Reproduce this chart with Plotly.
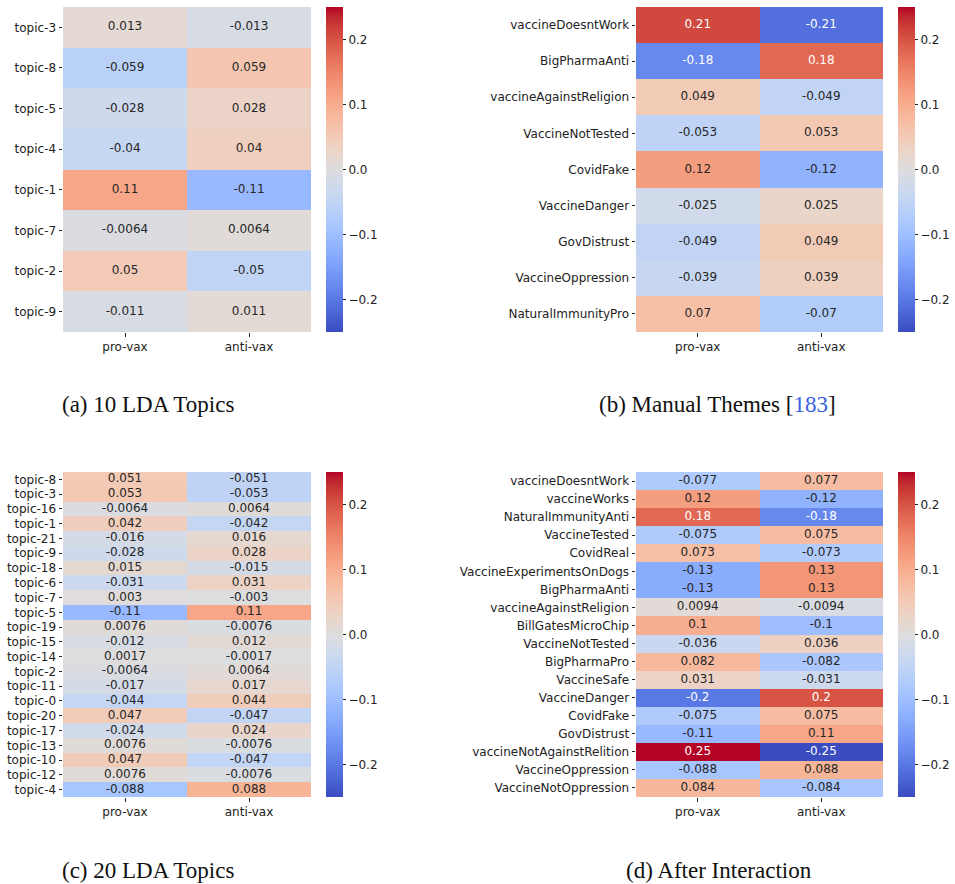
import numpy as np
import plotly.graph_objects as go

# ---- data -------------------------------------------------------------
columns = ["pro-vax", "anti-vax"]

lda10_topics = ["topic-3", "topic-8", "topic-5", "topic-4", "topic-1",
                "topic-7", "topic-2", "topic-9"]
lda10_pro = [0.013, -0.059, -0.028, -0.04, 0.11, -0.0064, 0.05, -0.011]
lda10_anti = [-0.013, 0.059, 0.028, 0.04, -0.11, 0.0064, -0.05, 0.011]

manual_themes = ["vaccineDoesntWork", "BigPharmaAnti", "vaccineAgainstReligion",
                 "VaccineNotTested", "CovidFake", "VaccineDanger", "GovDistrust",
                 "VaccineOppression", "NaturalImmunityPro"]
manual_pro = [0.21, -0.18, 0.049, -0.053, 0.12, -0.025, -0.049, -0.039, 0.07]
manual_anti = [-0.21, 0.18, -0.049, 0.053, -0.12, 0.025, 0.049, 0.039, -0.07]

lda20_topics = ["topic-8", "topic-3", "topic-16", "topic-1", "topic-21", "topic-9",
                "topic-18", "topic-6", "topic-7", "topic-5", "topic-19", "topic-15",
                "topic-14", "topic-2", "topic-11", "topic-0", "topic-20", "topic-17",
                "topic-13", "topic-10", "topic-12", "topic-4"]
lda20_pro = [0.051, 0.053, -0.0064, 0.042, -0.016, -0.028, 0.015, -0.031, 0.003,
             -0.11, 0.0076, -0.012, 0.0017, -0.0064, -0.017, -0.044, 0.047, -0.024,
             0.0076, 0.047, 0.0076, -0.088]
lda20_anti = [-0.051, -0.053, 0.0064, -0.042, 0.016, 0.028, -0.015, 0.031, -0.003,
              0.11, -0.0076, 0.012, -0.0017, 0.0064, 0.017, 0.044, -0.047, 0.024,
              -0.0076, -0.047, -0.0076, 0.088]

interaction_themes = ["vaccineDoesntWork", "vaccineWorks", "NaturalImmunityAnti",
                      "VaccineTested", "CovidReal", "VaccineExperimentsOnDogs",
                      "BigPharmaAnti", "vaccineAgainstReligion", "BillGatesMicroChip",
                      "VaccineNotTested", "BigPharmaPro", "VaccineSafe", "VaccineDanger",
                      "CovidFake", "GovDistrust", "vaccineNotAgainstRelition",
                      "VaccineOppression", "VaccineNotOppression"]
interaction_pro = [-0.077, 0.12, 0.18, -0.075, 0.073, -0.13, -0.13, 0.0094, 0.1,
                   -0.036, 0.082, 0.031, -0.2, -0.075, -0.11, 0.25, -0.088, 0.084]
interaction_anti = [0.077, -0.12, -0.18, 0.075, -0.073, 0.13, 0.13, -0.0094, -0.1,
                    0.036, -0.082, -0.031, 0.2, 0.075, 0.11, -0.25, 0.088, -0.084]

captions = ["(a) 10 LDA Topics",
            "(b) Manual Themes [<span style='color:#3a5ee0'>183</span>]",
            "(c) 20 LDA Topics",
            "(d) After Interaction"]

cbar_ticks = [-0.2, -0.1, 0.0, 0.1, 0.2]
cbar_labels = ["\u22120.2", "\u22120.1", "0.0", "0.1", "0.2"]

# ---- colour map (cool-warm diverging) ----------------------------------
coolwarm_rgb = [
    (59, 76, 192), (68, 90, 204), (77, 104, 215), (87, 117, 225), (98, 130, 234),
    (108, 142, 241), (119, 154, 247), (130, 165, 251), (141, 176, 254),
    (152, 185, 255), (163, 194, 255), (174, 201, 253), (184, 208, 249),
    (194, 213, 244), (204, 217, 238), (213, 219, 230), (221, 221, 221),
    (229, 216, 209), (236, 211, 197), (241, 204, 185), (245, 196, 173),
    (247, 187, 160), (247, 177, 148), (247, 166, 135), (244, 154, 123),
    (241, 141, 111), (236, 127, 99), (229, 112, 88), (222, 96, 77),
    (213, 80, 66), (203, 62, 56), (192, 40, 47), (180, 4, 38)]
cw_pos = np.linspace(0, 1, len(coolwarm_rgb))
colorscale = [[float(p), "rgb(%d,%d,%d)" % c] for p, c in zip(cw_pos, coolwarm_rgb)]
VMIN, VMAX = -0.25, 0.25
cw_arr = np.array(coolwarm_rgb, dtype=float) / 255.0


def cell_rgb(v):
    t = min(max((v - VMIN) / (VMAX - VMIN), 0.0), 1.0)
    return [np.interp(t, cw_pos, cw_arr[:, k]) for k in range(3)]


def text_color(v):
    # light text on dark cells, dark text elsewhere
    lin = [c / 12.92 if c <= 0.03928 else ((c + 0.055) / 1.055) ** 2.4 for c in cell_rgb(v)]
    lum = 0.2126 * lin[0] + 0.7152 * lin[1] + 0.0722 * lin[2]
    return "#262626" if lum > 0.408 else "white"


# ---- layout geometry (pixels) ------------------------------------------
W, H = 955, 884
panels = [
    dict(rows=lda10_topics, pro=lda10_pro, anti=lda10_anti,
         x0=63, x1=311, y0=7, y1=332, cb=326, cap=(148, 405)),
    dict(rows=manual_themes, pro=manual_pro, anti=manual_anti,
         x0=636, x1=883, y0=7, y1=332, cb=898, cap=(717, 405)),
    dict(rows=lda20_topics, pro=lda20_pro, anti=lda20_anti,
         x0=63, x1=311, y0=472, y1=797, cb=326, cap=(148, 870)),
    dict(rows=interaction_themes, pro=interaction_pro, anti=interaction_anti,
         x0=636, x1=883, y0=472, y1=797, cb=898, cap=(719, 870)),
]

fig = go.Figure()
font_sans = "DejaVu Sans"

for i, p in enumerate(panels, start=1):
    xa = "x" if i == 1 else "x%d" % i
    ya = "y" if i == 1 else "y%d" % i
    z = [[a, b] for a, b in zip(p["pro"], p["anti"])]

    fig.add_trace(go.Heatmap(
        z=z, x=columns, y=p["rows"], xaxis=xa, yaxis=ya,
        colorscale=colorscale, zmin=VMIN, zmax=VMAX,
        colorbar=dict(
            x=p["cb"] / W, xanchor="left", y=1 - p["y0"] / H, yanchor="top",
            len=(p["y1"] - p["y0"]) / H, lenmode="fraction",
            thickness=17, thicknessmode="pixels", xpad=0, ypad=0,
            outlinewidth=0, ticks="outside", ticklen=3.5, tickwidth=0.8,
            tickcolor="#222", tickvals=cbar_ticks, ticktext=cbar_labels,
            tickfont=dict(family=font_sans, size=12, color="#222"),
        ),
        hoverongaps=False,
    ))

    # cell value labels
    tx, ty, tt, tc = [], [], [], []
    for r, a, b in zip(p["rows"], p["pro"], p["anti"]):
        for col, v in zip(columns, (a, b)):
            tx.append(col)
            ty.append(r)
            tt.append("%.2g" % v)
            tc.append(text_color(v))
    fig.add_trace(go.Scatter(
        x=tx, y=ty, text=tt, mode="text", xaxis=xa, yaxis=ya,
        textfont=dict(family=font_sans, size=12, color=tc),
        hoverinfo="skip", showlegend=False,
    ))

    axis_common = dict(showgrid=False, zeroline=False, showline=False,
                       ticks="outside", ticklen=3.5, tickwidth=0.8, tickcolor="#222",
                       tickfont=dict(family=font_sans, size=12, color="#222"))
    fig.layout["xaxis" if i == 1 else "xaxis%d" % i] = dict(
        domain=[p["x0"] / W, p["x1"] / W], anchor=ya,
        type="category", categoryorder="array", categoryarray=columns,
        range=[-0.5, 1.5], **axis_common)
    fig.layout["yaxis" if i == 1 else "yaxis%d" % i] = dict(
        domain=[1 - p["y1"] / H, 1 - p["y0"] / H], anchor=xa,
        type="category", categoryorder="array", categoryarray=p["rows"],
        range=[len(p["rows"]) - 0.5, -0.5], **axis_common)

    cx, cy = p["cap"]
    fig.add_annotation(
        text=captions[i - 1], x=cx / W, y=1 - cy / H, xref="paper", yref="paper",
        xanchor="center", yanchor="middle", showarrow=False,
        font=dict(family="Liberation Serif", size=23, color="#111"))

fig.update_layout(
    width=W, height=H, margin=dict(l=0, r=0, t=0, b=0),
    paper_bgcolor="white", plot_bgcolor="white", showlegend=False,
)

fig.write_html("out.html")
